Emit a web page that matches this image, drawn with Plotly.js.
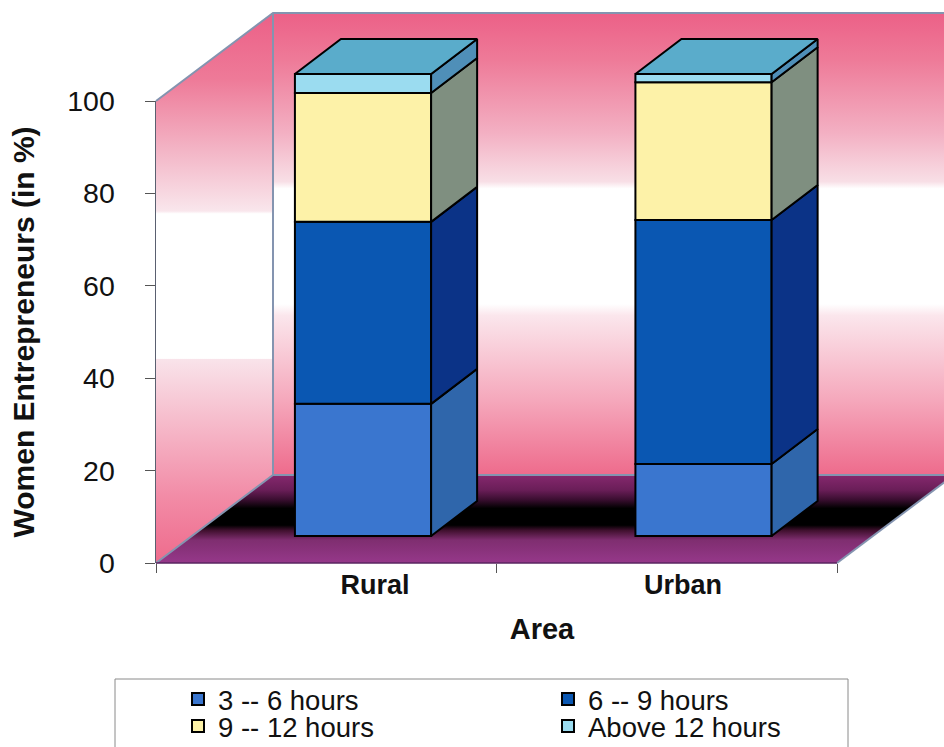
<!DOCTYPE html>
<html>
<head>
<meta charset="utf-8">
<script src="https://cdn.plot.ly/plotly-3.0.1.min.js"></script>
<style>html,body{margin:0;padding:0;background:#fff;overflow:hidden}</style>
</head>
<body>
<div id="chart" style="width:944px;height:747px"></div>
<script>
// Working hours of women entrepreneurs, by area (per cent, stacked)
const areas = ['Rural', 'Urban'];
const seriesNames = ['3 -- 6 hours', '6 -- 9 hours', '9 -- 12 hours', 'Above 12 hours'];
const hours3to6 = [28.6, 15.6];
const hours6to9 = [39.4, 52.8];
const hours9to12 = [27.9, 29.8];
const hoursAbove12 = [4.1, 1.8];
const frontColors = ['#3a76cf', '#0a57b2', '#fdf2a8', '#9bdcf0'];
const sideColors = ['#2f66ab', '#0b3387', '#7f8f80', '#4f8fb8'];
const topColor = '#5aaccb';
const yTicks = [0, 20, 40, 60, 80, 100];
const areaLabelPositions = [0.643, 1.548];
const areaBoundaries = [0, 1, 2];
const barCenters = [0.608, 1.608];

// Pseudo-3D geometry, in axis units
const xMax = 772 / 340.5;
const wallDx = 117 / 340.5, wallDy = 88 / 4.62;
const liftY = 27 / 4.62;
const barWidth = 0.4, depthDx = 46 / 340.5, depthDy = 35 / 4.62;

// Colour stops run from the bottom of each face to its top
const wallScale = [[0, '#ee6b8c'], [0.16, '#f5a7bb'], [0.345, '#fbe6ec'], [0.37, '#ffffff'],
  [0.62, '#ffffff'], [0.635, '#f8dfe6'], [0.74, '#f3b0c3'], [0.9, '#ee7a98'], [1, '#ec6087']];
const sideWallScale = [[0, '#ee6b8c'], [0.12, '#f28ba6'], [0.37, '#f9e3ea'], [0.372, '#ffffff'],
  [0.635, '#ffffff'], [0.64, '#f9e6ec'], [0.75, '#f3b5c6'], [0.88, '#ee7a98'], [1, '#ec6087']];
const floorScale = [[0, '#96388a'], [0.26, '#7f2e70'], [0.37, '#40102e'], [0.43, '#000000'],
  [0.62, '#000000'], [0.72, '#3a0e30'], [0.83, '#6a1e58'], [1, '#86286e']];

const traces = [];

function poly(xs, ys, extra, onOverlay) {
  return Object.assign({
    type: 'scatter', mode: 'lines', x: xs, y: ys, fill: 'toself', cliponaxis: false,
    hoverinfo: 'skip', showlegend: false, xaxis: onOverlay ? 'x2' : 'x', yaxis: onOverlay ? 'y2' : 'y'
  }, extra);
}

// Back wall, side wall and floor sit on the primary axes
traces.push(poly([wallDx, xMax + 0.1, xMax + 0.1, wallDx, wallDx],
  [wallDy, wallDy, 100 + wallDy, 100 + wallDy, wallDy],
  { line: { width: 0 }, fillgradient: { type: 'vertical', colorscale: wallScale } }));
traces.push(poly([0, wallDx, wallDx, 0, 0], [0, wallDy, 100 + wallDy, 100, 0],
  { line: { width: 0 }, fillgradient: { type: 'vertical', colorscale: sideWallScale } }));
traces.push(poly([0, 2, 2 + wallDx, wallDx, 0], [0, 0, wallDy, wallDy, 0],
  { line: { width: 0 }, fillgradient: { type: 'vertical', colorscale: floorScale } }));
traces.push(poly([0, wallDx, xMax + 0.1, null, wallDx, wallDx, null, 0, wallDx, xMax + 0.1, null, 2, 2 + wallDx],
  [100, 100 + wallDy, 100 + wallDy, null, 100 + wallDy, wallDy, null, 0, wallDy, wallDy, null, 0, wallDy],
  { fill: 'none', line: { color: '#8494b0', width: 2 } }));
traces.push(poly([0, 2], [0, 0], { fill: 'none', line: { color: '#5a2560', width: 1.5 } }));

// Stacked columns: front faces are bars, side and top faces follow the same values
const stacks = [hours3to6, hours6to9, hours9to12, hoursAbove12];
const bases = areas.map(() => liftY);
const barTraces = [], faceTraces = [];
stacks.forEach((vals, s) => {
  const base = bases.slice();
  barTraces.push({
    type: 'bar', name: seriesNames[s], x: barCenters, y: vals, base: base, width: barWidth,
    cliponaxis: false, xaxis: 'x2', yaxis: 'y2', hoverinfo: 'name+y',
    legend: s === 0 ? 'legend' : 'legend' + (s + 1),
    marker: { color: frontColors[s], line: { color: '#000000', width: 2 } }
  });
  vals.forEach((v, i) => {
    const xr = barCenters[i] + barWidth / 2;
    const lo = base[i], hi = base[i] + v;
    faceTraces.push(poly([xr, xr + depthDx, xr + depthDx, xr, xr],
      [lo, lo + depthDy, hi + depthDy, hi, lo],
      { fillcolor: sideColors[s], line: { color: '#000000', width: 2 } }, true));
    bases[i] = hi;
  });
});
barCenters.forEach((c, i) => {
  const xl = c - barWidth / 2, xr = c + barWidth / 2, t = bases[i];
  faceTraces.push(poly([xl, xr, xr + depthDx, xl + depthDx, xl], [t, t, t + depthDy, t + depthDy, t],
    { fillcolor: topColor, line: { color: '#000000', width: 2 } }, true));
});
traces.push(...barTraces, ...faceTraces);

const textFont = { family: '"Liberation Sans", Arial, sans-serif', color: '#111111' };
const boldFont = { family: '"Liberation Sans", Arial, sans-serif', color: '#111111', weight: 700 };

function legendAt(px, py) {
  return {
    x: (px - 156) / 772, y: 1 - (py - 101) / 462, xanchor: 'left', yanchor: 'middle',
    bgcolor: 'rgba(0,0,0,0)', borderwidth: 0, font: Object.assign({ size: 27.5 }, textFont)
  };
}

const layout = {
  width: 944, height: 747,
  margin: { l: 156, r: 16, t: 101, b: 184, autoexpand: false },
  paper_bgcolor: '#ffffff', plot_bgcolor: 'rgba(0,0,0,0)',
  barmode: 'overlay',
  xaxis: {
    range: [0, xMax], showgrid: false, zeroline: false, showline: false,
    tickmode: 'array', tickvals: areaLabelPositions, ticktext: areas, ticks: '',
    ticklabelstandoff: 3,
    tickfont: Object.assign({ size: 27 }, boldFont),
    minor: { tickmode: 'array', tickvals: areaBoundaries, ticks: 'outside', ticklen: 9, tickcolor: '#555555', tickwidth: 1 },
    title: { text: 'Area', font: Object.assign({ size: 29 }, boldFont), standoff: 19 }
  },
  yaxis: {
    range: [0, 100], showgrid: false, zeroline: false, showline: true, linecolor: '#5a6070', linewidth: 1.5,
    tickmode: 'array', tickvals: yTicks, ticks: 'outside', ticklen: 10, tickcolor: '#555555', tickwidth: 1,
    ticklabelstandoff: 24,
    tickfont: Object.assign({ size: 28.5 }, textFont),
    title: { text: 'Women Entrepreneurs (in %)', font: Object.assign({ size: 30 }, boldFont), standoff: 23 }
  },
  xaxis2: { overlaying: 'x', range: [0, xMax], visible: false },
  yaxis2: { overlaying: 'y', range: [0, 100], visible: false },
  legend: legendAt(178, 699),
  legend2: legendAt(548, 699),
  legend3: legendAt(178, 726),
  legend4: legendAt(548, 726),
  shapes: [{
    type: 'rect', xref: 'paper', yref: 'paper',
    x0: (115 - 156) / 772, x1: (848 - 156) / 772,
    y0: 1 - (679 - 101) / 462, y1: 1 - (770 - 101) / 462,
    line: { color: '#8a8a8a', width: 1 }, fillcolor: 'rgba(0,0,0,0)'
  }]
};

Plotly.newPlot('chart', traces, layout, { displayModeBar: false, staticPlot: true }).then(gd => {
  // The walls and columns extend past the axis frame, so the subplot clips come off
  gd.querySelectorAll('.cartesianlayer [clip-path]').forEach(el => el.removeAttribute('clip-path'));
});
</script>
</body>
</html>
